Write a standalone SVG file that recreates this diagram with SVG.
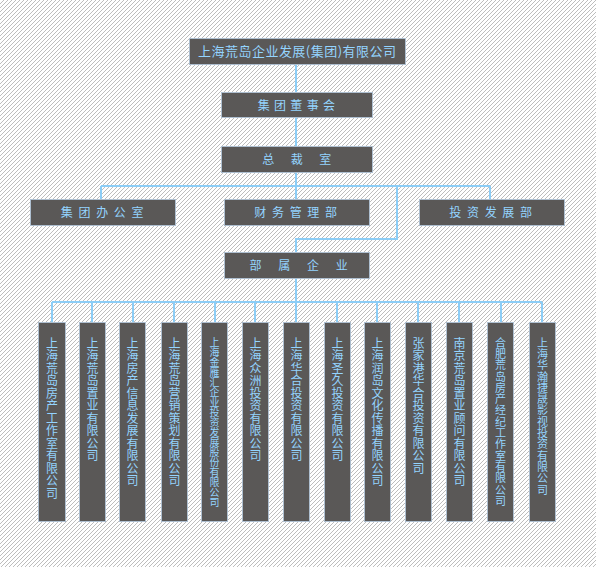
<svg xmlns="http://www.w3.org/2000/svg" width="596" height="567" viewBox="0 0 596 567">
<defs>
<pattern id="hatch" patternUnits="userSpaceOnUse" width="4" height="4">
<rect width="4" height="4" fill="#ffffff"/>
<path d="M-1,1 L1,-1 M0,4 L4,0 M3,5 L5,3" stroke="#bdbdbd" stroke-width="1"/>
</pattern>
</defs>
<style>
.box{fill:#5a5857;stroke:#aebfd0;stroke-width:1}
.lbl{font-family:"Noto Sans CJK SC","Noto Sans",sans-serif;font-size:12px;fill:#94d4ff;text-anchor:middle}
.vt{font-family:"Noto Sans CJK SC","Noto Sans",sans-serif;font-size:12px;fill:#94d4ff;writing-mode:vertical-rl;text-anchor:start;letter-spacing:0.5px}
.vs{font-size:10px;letter-spacing:0px}
.vn{font-size:11px;letter-spacing:0.3px}
.conn{stroke:#8ccdf6;stroke-width:2;fill:none}
</style>
<rect width="596" height="567" fill="url(#hatch)"/>
<g id="connectors" class="conn">
<path d="M296,64 V92 M296,117 V146 M296,172 V186 M101,186 H490 M101,186 V199 M296,186 V199 M490,186 V199 M397,186 V239 H296 V252 M296,278 V302 M52,302 H542"/>
<path d="M52,302 V322 M92,302 V322 M133,302 V322 M174,302 V322 M215,302 V322 M255,302 V322 M296,302 V322 M337,302 V322 M377,302 V322 M418,302 V322 M459,302 V322 M501,302 V322 M542,302 V322"/>
</g>
<g id="n-group"><rect class="box" x="189.5" y="38.5" width="216" height="26"/><text class="lbl" x="297" y="56" style="font-size:13px" textLength="198" lengthAdjust="spacing">上海荒岛企业发展(集团)有限公司</text></g>
<g id="n-board"><rect class="box" x="221.5" y="92.5" width="151" height="25"/><text class="lbl" x="298.5" y="110" letter-spacing="4.3">集团董事会</text></g>
<g id="n-ceo"><rect class="box" x="221.5" y="146.5" width="151" height="26"/><text class="lbl" x="305" y="164" letter-spacing="16.5">总裁室</text></g>
<g id="n-office"><rect class="box" x="30.5" y="199.5" width="145" height="26"/><text class="lbl" x="105" y="217" letter-spacing="5.7">集团办公室</text></g>
<g id="n-finance"><rect class="box" x="224.5" y="199.5" width="145" height="26"/><text class="lbl" x="298.5" y="217" letter-spacing="5.7">财务管理部</text></g>
<g id="n-invest"><rect class="box" x="419.5" y="199.5" width="145" height="26"/><text class="lbl" x="493.5" y="217" letter-spacing="5.7">投资发展部</text></g>
<g id="n-subs"><rect class="box" x="224.5" y="252.5" width="145" height="26"/><text class="lbl" x="307" y="270" letter-spacing="16.7">部属企业</text></g>
<g id="c1"><rect class="box" x="38.5" y="322.5" width="27" height="199"/><text class="vt" x="52" y="337">上海荒岛房产工作室有限公司</text></g>
<g id="c2"><rect class="box" x="79.5" y="322.5" width="26" height="199"/><text class="vt" x="92.5" y="337">上海荒岛置业有限公司</text></g>
<g id="c3"><rect class="box" x="119.5" y="322.5" width="26" height="199"/><text class="vt" x="132.5" y="337">上海房产信息发展有限公司</text></g>
<g id="c4"><rect class="box" x="161.5" y="322.5" width="26" height="199"/><text class="vt" x="174.5" y="337">上海荒岛营销策划有限公司</text></g>
<g id="c5"><rect class="box" x="201.5" y="322.5" width="26" height="199"/><text class="vt vs" x="214.5" y="337">上海金雁汇企业投资发展股份有限公司</text></g>
<g id="c6"><rect class="box" x="242.5" y="322.5" width="26" height="199"/><text class="vt" x="255.5" y="337">上海众洲投资有限公司</text></g>
<g id="c7"><rect class="box" x="283.5" y="322.5" width="26" height="199"/><text class="vt" x="296.5" y="337">上海华合投资有限公司</text></g>
<g id="c8"><rect class="box" x="324.5" y="322.5" width="26" height="199"/><text class="vt" x="337.5" y="337">上海圣久投资有限公司</text></g>
<g id="c9"><rect class="box" x="364.5" y="322.5" width="26" height="199"/><text class="vt" x="377.5" y="337">上海润岛文化传播有限公司</text></g>
<g id="c10"><rect class="box" x="405.5" y="322.5" width="26" height="199"/><text class="vt" x="418.5" y="337">张家港华合投资有限公司</text></g>
<g id="c11"><rect class="box" x="446.5" y="322.5" width="26" height="199"/><text class="vt" x="459.5" y="337">南京荒岛置业顾问有限公司</text></g>
<g id="c12"><rect class="box" x="487.5" y="322.5" width="26" height="199"/><text class="vt vn" x="500.5" y="337">合肥荒岛房产经纪工作室有限公司</text></g>
<g id="c13"><rect class="box" x="529.5" y="322.5" width="26" height="199"/><text class="vt vn" x="542.5" y="337">上海华瀚捷晟影视投资有限公司</text></g>
</svg>
